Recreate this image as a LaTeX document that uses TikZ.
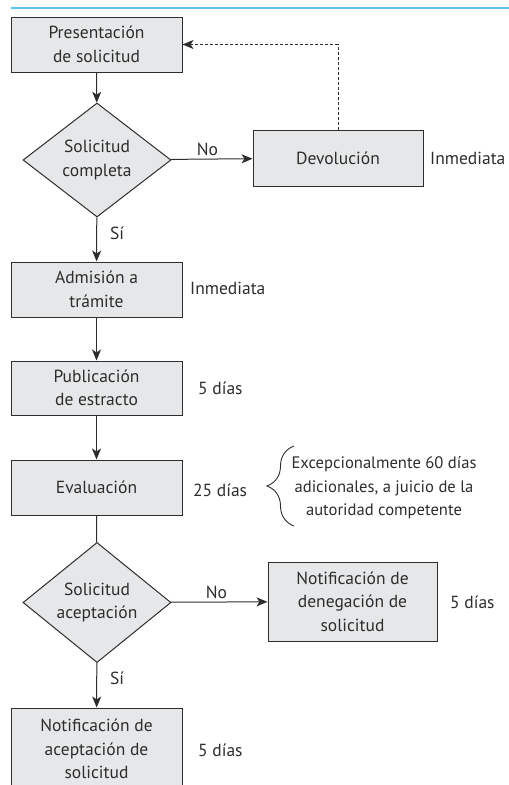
\documentclass[tikz,border=0pt]{standalone}
\usepackage{fontspec}
\setmainfont{PT Sans}
\usetikzlibrary{shapes.geometric,arrows.meta,decorations.pathreplacing}
\definecolor{boxfill}{RGB}{230,231,232}
\definecolor{boxline}{RGB}{45,45,45}
\definecolor{topline}{RGB}{90,195,238}
\tikzset{
  every node/.style={font=\fontsize{17.5}{23.5}\selectfont, text=boxline},
  procbox/.style={draw=boxline, fill=boxfill, line width=1pt, rectangle, inner sep=0pt, minimum width=171pt, align=center},
  decbox/.style={draw=boxline, fill=boxfill, line width=1pt, diamond, inner sep=0pt, minimum width=148pt, minimum height=114pt, align=center},
  flow/.style={draw=boxline, line width=1pt, -{Stealth[length=11pt,width=9pt,inset=3pt]}},
  plainline/.style={draw=boxline, line width=1pt},
  retline/.style={draw=boxline, line width=0.9pt, dash pattern=on 3pt off 2pt, -{Stealth[length=11pt,width=9pt,inset=3pt]}},
  lbl/.style={anchor=west, inner sep=0pt},
}
\begin{document}
\begin{tikzpicture}[x=1pt,y=-1pt]
\clip (0,0) rectangle (509,785);
\path[use as bounding box] (0,0) rectangle (509,785);
\draw[topline, line width=1.3pt] (11,8) -- (509,8);

\node[procbox, minimum height=55pt] (b1) at (96.5,44.5) {Presentación\\de solicitud};
\node[decbox] (d1) at (97,160) {Solicitud\\completa};
\node[procbox, minimum width=170pt, minimum height=56pt] (dev) at (338,158) {Devolución};
\node[procbox, minimum height=55pt] (b2) at (96.5,289.5) {Admisión a\\trámite};
\node[procbox, minimum height=54pt] (b3) at (96.5,388) {Publicación\\de estracto};
\node[procbox, minimum height=55pt] (b4) at (96.5,487.5) {Evaluación};
\node[decbox, minimum height=115pt] (d2) at (97,602.5) {Solicitud\\aceptación};
\node[procbox, minimum width=169pt, minimum height=79pt] (den) at (352.5,601.5) {Notificación de\\denegación de\\solicitud};
\node[procbox, minimum height=82pt] (b5) at (96.5,749) {Notificación de\\aceptación de\\solicitud};

\draw[flow] (b1) -- (d1);
\draw[flow] (d1) -- node[above, pos=0.45, inner sep=3pt] (lno1) {No} (dev);
\draw[retline] (dev.north) |- (b1.east);
\draw[flow] (d1) -- (b2);
\node[lbl] (lsi1) at (110,233) {Sí};
\draw[flow] (b2) -- (b3);
\draw[flow] (b3) -- (b4);
\draw[plainline] (b4) -- (d2);
\draw[flow] (d2) -- node[above, pos=0.47, inner sep=3pt] (lno2) {No} (den);
\draw[flow] (d2) -- (b5);
\node[lbl] (lsi2) at (110,678) {Sí};

\node[lbl] (t1) at (430,158) {Inmediata};
\node[lbl] (t2) at (190,288) {Inmediata};
\node[lbl] (t3) at (198,388) {5 días};
\node[lbl] (t4) at (193,490) {25 días};
\node[lbl] (t5) at (450,602) {5 días};
\node[lbl] (t6) at (198,750) {5 días};

\coordinate (bra) at (294,526);
\coordinate (brb) at (294,446);
\draw[boxline, line width=0.9pt, decorate, decoration={brace, amplitude=27pt, aspect=0.5}] (bra) -- (brb);
\node[align=center, inner sep=0pt, font=\fontsize{16.6}{23.5}\selectfont] (note) at (384,488) {Excepcionalmente 60 días\\adicionales, a juicio de la\\autoridad competente};
\end{tikzpicture}
\end{document}
